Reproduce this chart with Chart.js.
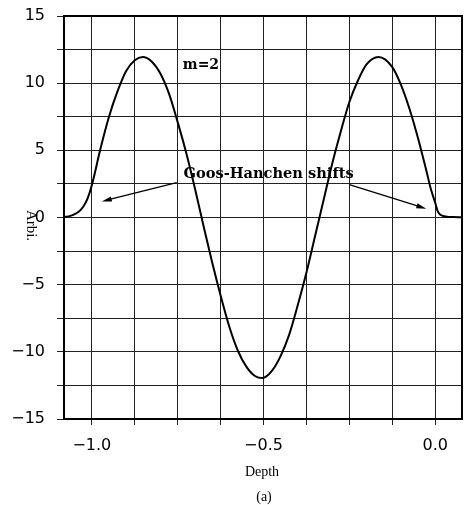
<!DOCTYPE html>
<html>
<head>
<meta charset="utf-8">
<script src="https://cdn.jsdelivr.net/npm/chart.js@4.4.1/dist/chart.umd.min.js"></script>
<style>
  body { margin: 0; background: #fff; }
  #wrap { width: 467px; height: 505px; }
</style>
</head>
<body>
<div id="wrap"><canvas id="chart"></canvas></div>
<script>
// curve (depth, arbitrary units)
const depth = [-1.081, -1.075, -1.0625, -1.05, -1.0375, -1.025, -1.0125, -1.0, -0.975, -0.95,
  -0.925, -0.9, -0.875, -0.852, -0.825, -0.8, -0.775, -0.75, -0.725, -0.7,
  -0.675, -0.65, -0.625, -0.6, -0.575, -0.55, -0.525, -0.503, -0.475, -0.45,
  -0.425, -0.4, -0.375, -0.35, -0.325, -0.3, -0.275, -0.25, -0.225, -0.2,
  -0.165, -0.125, -0.1, -0.075, -0.05, -0.025, -0.0125, 0.0, 0.0075,
  0.015, 0.03, 0.05, 0.078];
const amp = [0.03, 0.05, 0.12, 0.25, 0.45, 0.8, 1.4, 2.4, 5.1, 7.5,
  9.4, 10.9, 11.7, 11.95, 11.6, 10.7, 9.2, 7.1, 4.8, 2.2,
  -0.6, -3.3, -5.8, -8.1, -9.9, -11.1, -11.8, -11.95, -11.4, -10.3,
  -8.7, -6.5, -4.1, -1.4, 1.3, 4.0, 6.4, 8.6, 10.2, 11.4,
  11.95, 11.2, 9.9, 8.1, 5.9, 3.4, 2.1, 1.1, 0.45,
  0.2, 0.08, 0.03, 0.02];

const xTicks = [-1.0, -0.875, -0.75, -0.625, -0.5, -0.375, -0.25, -0.125, 0.0];
const xTickLabels = ['\u22121.0', '', '', '', '\u22120.5', '', '', '', '0.0'];
const yTicks = [-15, -12.5, -10, -7.5, -5, -2.5, 0, 2.5, 5, 7.5, 10, 12.5, 15];
const yTickLabels = ['\u221215', '', '\u221210', '', '\u22125', '', '0', '', '5', '', '10', '', '15'];

const xRange = [-1.081, 0.078];
const yRange = [-15, 15];

const xTitle = 'Depth';
const yTitle = 'Arbi.';
const caption = '(a)';
const modeText = 'm=2';
const shiftText = 'Goos-Hanchen shifts';

// arrows, in data units: [fromX, fromY, toX, toY]
const arrows = [
  [-0.753, 2.6, -0.971, 1.2],
  [-0.25, 2.45, -0.026, 0.65]
];

const points = depth.map((d, i) => ({x: d, y: amp[i]}));

function arrow(ctx, x1, y1, x2, y2) {
  const a = Math.atan2(y2 - y1, x2 - x1);
  ctx.beginPath();
  ctx.moveTo(x1, y1);
  ctx.lineTo(x2 - 6 * Math.cos(a), y2 - 6 * Math.sin(a));
  ctx.stroke();
  ctx.beginPath();
  ctx.moveTo(x2, y2);
  ctx.lineTo(x2 - 10 * Math.cos(a) + 2.6 * Math.sin(a), y2 - 10 * Math.sin(a) - 2.6 * Math.cos(a));
  ctx.lineTo(x2 - 10 * Math.cos(a) - 2.6 * Math.sin(a), y2 - 10 * Math.sin(a) + 2.6 * Math.cos(a));
  ctx.closePath();
  ctx.fill();
}

const notes = {
  id: 'notes',
  afterDraw(chart) {
    const {ctx, chartArea: area, scales: {x, y}} = chart;
    ctx.save();
    ctx.strokeStyle = '#000';
    ctx.fillStyle = '#000';
    ctx.lineWidth = 2;
    ctx.strokeRect(area.left, area.top, area.right - area.left, area.bottom - area.top);

    ctx.textBaseline = 'middle';
    ctx.textAlign = 'left';
    ctx.font = 'bold 14px "DejaVu Serif"';
    ctx.fillText(modeText, x.getPixelForValue(-0.735), y.getPixelForValue(11.3));
    ctx.font = 'bold 14.6px "DejaVu Serif"';
    ctx.fillText(shiftText, x.getPixelForValue(-0.733), y.getPixelForValue(3.2));

    ctx.lineWidth = 1.3;
    arrows.forEach(a => arrow(ctx, x.getPixelForValue(a[0]), y.getPixelForValue(a[1]),
      x.getPixelForValue(a[2]), y.getPixelForValue(a[3])));

    const cx = (area.left + area.right) / 2;
    ctx.textAlign = 'center';
    ctx.font = '14px "Liberation Serif"';
    ctx.fillText(xTitle, cx - 1, area.bottom + 53);
    ctx.fillText(caption, cx + 1, area.bottom + 78);

    ctx.translate(31, (area.top + area.bottom) / 2 + 8);
    ctx.rotate(Math.PI / 2);
    ctx.font = '15px "Liberation Serif"';
    ctx.fillText(yTitle, 0, 0);
    ctx.restore();
  }
};

const tickFont = {family: '"DejaVu Sans"', size: 16};

new Chart(document.getElementById('chart'), {
  type: 'line',
  data: {
    datasets: [{
      data: points,
      borderColor: '#000',
      borderWidth: 2,
      pointRadius: 0,
      fill: false,
      cubicInterpolationMode: 'monotone'
    }]
  },
  options: {
    responsive: true,
    maintainAspectRatio: false,
    animation: false,
    events: [],
    layout: {padding: {top: 16, right: 5, left: 0, bottom: 0}},
    plugins: {legend: {display: false}, tooltip: {enabled: false}},
    scales: {
      x: {
        type: 'linear',
        min: xRange[0],
        max: xRange[1],
        afterBuildTicks: s => { s.ticks = xTicks.map(v => ({value: v})); },
        afterFit: s => { s.height = 86; s.paddingLeft = 0; s.paddingRight = 0; },
        grid: {color: '#222', lineWidth: 1, tickLength: 6},
        border: {display: false},
        ticks: {
          font: tickFont,
          color: '#000',
          padding: 11,
          maxRotation: 0,
          autoSkip: false,
          callback: (v) => xTickLabels[xTicks.indexOf(v)] ?? ''
        }
      },
      y: {
        min: yRange[0],
        max: yRange[1],
        afterBuildTicks: s => { s.ticks = yTicks.map(v => ({value: v})); },
        afterFit: s => { s.width = 64; s.paddingTop = 0; s.paddingBottom = 0; },
        grid: {color: '#222', lineWidth: 1, tickLength: 7},
        border: {display: false},
        ticks: {
          font: tickFont,
          color: '#000',
          padding: 12,
          autoSkip: false,
          callback: (v) => yTickLabels[yTicks.indexOf(v)] ?? ''
        }
      }
    }
  },
  plugins: [notes]
});
</script>
</body>
</html>
